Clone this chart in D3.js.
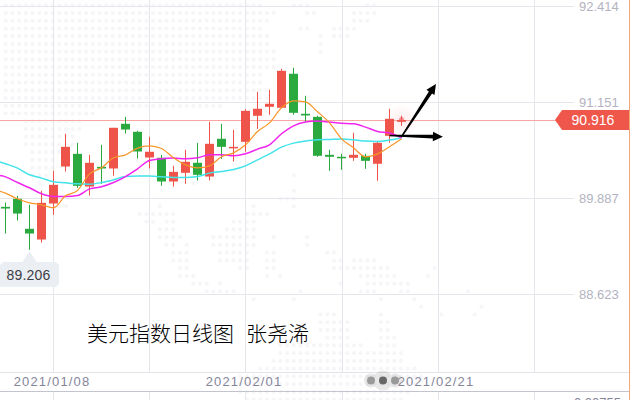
<!DOCTYPE html>
<html><head><meta charset="utf-8">
<script src="https://cdn.jsdelivr.net/npm/d3@7/dist/d3.min.js"></script>
<style>
html,body{margin:0;padding:0;background:#fff;overflow:hidden}
svg{display:block;font-family:"Liberation Sans",Arial,sans-serif}
.price text{font-size:13px;fill:#b3b3bf}
.date text{font-size:13px;fill:#85859a;letter-spacing:1.15px}
.axis path,.axis line{display:none}
</style></head><body><svg id="c" width="632" height="400"></svg>
<script>
const opens  =[89.774,89.880,89.485,89.344,89.818,90.305,90.472,90.042,90.301,90.279,90.867,90.762,90.424,90.420,90.108,90.222,90.354,90.173,90.670,90.551,90.630,90.973,91.091,91.078,91.526,90.999,90.959,90.459,90.433,90.420,90.446,90.341,90.709,90.894];
const closes =[89.752,89.686,89.423,89.827,90.064,90.564,90.051,90.354,90.279,90.815,90.792,90.503,90.499,90.108,90.235,90.367,90.196,90.604,90.564,90.564,91.038,91.065,91.131,91.565,91.012,90.977,90.446,90.433,90.420,90.459,90.380,90.617,90.933,90.916];
const highs  =[89.831,89.919,89.801,89.985,90.248,90.736,90.617,90.459,90.591,90.815,90.959,90.775,90.696,90.459,90.314,90.525,90.617,90.894,90.867,90.788,91.061,91.289,91.315,91.591,91.605,91.236,90.973,90.525,90.472,90.749,90.472,90.643,91.065,90.973];
const lows   =[89.423,89.594,89.208,89.304,89.669,90.239,90.025,89.923,90.077,90.183,90.740,90.410,90.279,90.051,90.042,90.077,90.121,90.121,90.406,90.371,90.499,90.801,90.986,91.078,90.986,90.894,90.433,90.248,90.262,90.380,90.275,90.117,90.617,90.841];
// moving averages start one session before the first visible candle
const maFast =[89.998,89.955,89.880,89.827,89.801,89.761,89.919,89.989,90.209,90.288,90.420,90.459,90.547,90.578,90.542,90.420,90.327,90.288,90.314,90.433,90.485,90.591,90.766,90.880,91.078,91.170,91.157,91.025,90.880,90.670,90.551,90.433,90.472,90.564,90.670];
const maMid  =[90.196,90.169,90.094,90.025,89.946,89.910,89.910,89.923,90.011,90.038,90.094,90.173,90.275,90.384,90.406,90.416,90.406,90.420,90.459,90.459,90.446,90.472,90.534,90.591,90.736,90.841,90.890,90.903,90.890,90.876,90.867,90.824,90.766,90.745,90.683];
const maSlow =[90.393,90.341,90.284,90.196,90.152,90.104,90.090,90.077,90.073,90.094,90.130,90.173,90.179,90.179,90.169,90.160,90.160,90.173,90.218,90.239,90.266,90.314,90.393,90.472,90.560,90.613,90.640,90.657,90.661,90.666,90.657,90.640,90.634,90.653,90.683];
const priceTicks=[92.414,91.151,89.887,88.623];
const dateTicks=[4,20,36];
const dateLabels=["2021/01/08","2021/02/01","2021/02/21"];
const gridSessions=[4,12,20,28.08,36.08,44.08];
const lastPrice=90.916, lowPrice=89.206, lowSession=2;
const title="美元指数日线图";
const author="张尧浠";
const arrows=[[32.98,90.692,35.87,91.39],[32,90.713,36.45,90.696]];
const mapRows={0:[0,262,292,310,365,376],1:[0,275,305,316,352,376],2:[0,265,352,370],3:[0,260,300,307,335,356],4:[0,265,320,321,335,350],5:[0,265,320,321],6:[0,272,320,321],7:[0,272],8:[0,272],9:[0,260],10:[0,260],11:[0,265],12:[0,265],13:[0,222],14:[0,95],15:[23,80],16:[25,80],17:[25,70],18:[25,70,160,161],19:[30,60],20:[30,50],21:[35,50],22:[35,45,293,294],23:[40,41,193,194],24:[293,294],25:[280,295],26:[60,66,160,161,253,254,293,294],27:[140,172,245,267],28:[145,155,165,175,232,255],29:[160,175,225,255],30:[160,180,212,255,273,274,307,308],31:[165,175,185,186,212,255,307,308],32:[170,190,222,245,270,276,327,335],33:[170,185,222,250,270,276,333,340,353,375],34:[180,190,240,250,265,276,333,390,435,436],35:[180,195,267,268,280,281,360,395,428,429],36:[193,205,220,221,340,341,365,410],37:[205,235,300,301,360,375,400,410,468,469],38:[253,254,293,294,380,381,415,416],39:[420,421,482,483],40:[320,335,380,381,442,443,475,476],41:[320,345,380,388],42:[320,345,380,388],43:[325,345,380,395],44:[280,360,380,395],45:[280,400],46:[275,402],47:[260,415],48:[240,420],49:[240,415],50:[240,410],51:[245,400]};

const svg=d3.select("#c");
const x=d3.scaleLinear().domain([0,1]).range([5.5,17.5]);
const y=d3.scaleLinear().domain([92.414,88.623]).range([6.3,294.3]);
const RED="#ee5449",GREEN="#2aa93e",GRID="#e5e5ec";

// dotted world-map watermark
const wm=svg.append("g").attr("fill","#f6f6f8");
Object.entries(mapRows).forEach(([r,s])=>{
  for(let i=0;i<s.length;i+=2)for(let k=0;k<95;k++){
    const cx=5.7+6.7*k;
    if(cx>=s[i]-3&&cx<=s[i+1]+3) wm.append("circle").attr("cx",cx).attr("cy",5.3+7.73*r).attr("r",2.1);
  }
});

// grid
svg.append("g").selectAll("line").data(gridSessions).join("line")
 .attr("x1",d=>Math.floor(x(d))+.5).attr("x2",d=>Math.floor(x(d))+.5).attr("y1",0).attr("y2",372).attr("stroke",GRID);
svg.append("g").selectAll("line").data(gridSessions).join("line")
 .attr("x1",d=>Math.floor(x(d))+.5).attr("x2",d=>Math.floor(x(d))+.5).attr("y1",391).attr("y2",400).attr("stroke",GRID);
svg.append("g").selectAll("line").data(priceTicks).join("line")
 .attr("x1",0).attr("x2",574).attr("y1",d=>Math.round(y(d))+.5).attr("y2",d=>Math.round(y(d))+.5).attr("stroke",GRID);
svg.append("line").attr("x1",0).attr("x2",629).attr("y1",372.5).attr("y2",372.5).attr("stroke","#e2e2e8");
svg.append("line").attr("x1",0).attr("x2",629).attr("y1",391.5).attr("y2",391.5).attr("stroke","#c4c4cf");
svg.append("line").attr("x1",629.5).attr("x2",629.5).attr("y1",0).attr("y2",400).attr("stroke","#f4a674");

// last-price line
svg.append("line").attr("x1",0).attr("x2",556).attr("y1",Math.floor(y(lastPrice))+.5).attr("y2",Math.floor(y(lastPrice))+.5).attr("stroke","#f8a8a0");

// glow behind latest candle
const defs=svg.append("defs");
const rg=defs.append("radialGradient").attr("id","glow");
rg.append("stop").attr("offset","0").attr("stop-color","#f66").attr("stop-opacity",.12);
rg.append("stop").attr("offset","1").attr("stop-color","#f66").attr("stop-opacity",0);
svg.append("circle").attr("cx",x(33)).attr("cy",y(lastPrice)).attr("r",17).attr("fill","url(#glow)");

// candles
const idx=d3.range(opens.length);
const col=i=>closes[i]>=opens[i]?RED:GREEN;
const cg=svg.append("g");
cg.selectAll("rect.w").data(idx).join("rect").attr("class","w")
 .attr("x",i=>x(i)-.5).attr("width",1).attr("y",i=>y(highs[i])).attr("height",i=>y(lows[i])-y(highs[i])).attr("fill",col);
cg.selectAll("rect.b").data(idx).join("rect").attr("class","b")
 .attr("x",i=>x(i)-4.5).attr("width",9)
 .attr("y",i=>y(Math.max(opens[i],closes[i])))
 .attr("height",i=>Math.max(1.5,Math.abs(y(opens[i])-y(closes[i])))).attr("fill",col);
svg.append("circle").attr("cx",x(33)).attr("cy",y(lastPrice)-.5).attr("r",2.5).attr("fill","#f5555a").attr("opacity",.6);

// moving averages
const ln=d3.line().x((d,i)=>x(i-1)).y(d=>y(d)).curve(d3.curveMonotoneX);
[[maSlow,"#42e3ea",1.5],[maMid,"#f225ee",1.5],[maFast,"#f9962a",1.2]].forEach(([s,c,w])=>
 svg.append("path").attr("d",ln(s)).attr("fill","none").attr("stroke",c).attr("stroke-width",w));

// hand-drawn arrows
arrows.forEach(([a,b,c,d])=>{
 const x0=x(a),y0=y(b),x1=x(c),y1=y(d),L=Math.hypot(x1-x0,y1-y0),ux=(x1-x0)/L,uy=(y1-y0)/L,nx=-uy,ny=ux;
 const bx=x1-ux*10,by=y1-uy*10;
 const pts=[[x0+nx*.8,y0+ny*.8],[bx+nx*1.9,by+ny*1.9],[bx+nx*4.8,by+ny*4.8],[x1,y1],[bx-nx*4.8,by-ny*4.8],[bx-nx*1.9,by-ny*1.9],[x0-nx*.8,y0-ny*.8]];
 svg.append("polygon").attr("points",pts.map(p=>p.join(",")).join(" ")).attr("fill","#000");
});

// axes
svg.append("g").attr("class","axis price").attr("transform","translate(579,0)")
 .call(d3.axisRight(y).tickValues(priceTicks).tickFormat(d3.format(".3f")).tickSize(0).tickPadding(0));
const da=svg.append("g").attr("class","axis date").attr("transform","translate(0,376)")
 .call(d3.axisBottom(x).tickValues(dateTicks).tickFormat((d,i)=>dateLabels[i]).tickSize(0).tickPadding(0));
da.selectAll("text").attr("y",0).attr("dy","10px").attr("dx","-2px");
svg.append("text").attr("x",621).attr("y",407).attr("text-anchor","end").attr("font-size",13).attr("fill","#85859a").text("0.00755");

// last-price tag
const ty=y(lastPrice);
svg.append("path").attr("d",d3.line()([[555,ty],[562,ty-10],[629,ty-10],[629,ty+10],[562,ty+10]])+"Z").attr("fill","#ef574b");
svg.append("text").attr("x",593).attr("y",ty+5).attr("text-anchor","middle").attr("font-size",14).attr("fill","#fff").text(d3.format(".3f")(lastPrice));

// lowest-price callout
const lx=x(lowSession), ly=y(lowPrice);
svg.append("path").attr("d",d3.line()([[lx,ly+1],[lx+7,262],[56,262],[59,265],[59,284],[56,287],[0,287],[0,265],[3,262],[lx-7,262]])+"Z").attr("fill","#ebeef2");
svg.append("text").attr("x",28.5).attr("y",279.5).attr("text-anchor","middle").attr("font-size",14).attr("letter-spacing",".2").attr("fill","#3a3d45").text(d3.format(".3f")(lowPrice));

// title
const ft='"Noto Sans CJK SC"';
svg.append("text").attr("x",87).attr("y",341).attr("font-family",ft).attr("font-size",21).attr("font-weight",300).attr("fill","#000").text(title);
svg.append("text").attr("x",246).attr("y",341).attr("font-family",ft).attr("font-size",21).attr("font-weight",300).attr("fill","#000").text(author);

// loading indicator over the time axis
const halo=svg.append("g").attr("fill","#999").attr("opacity",.22);
[[371,7],[383,10],[395,7]].forEach(([cx,r])=>halo.append("circle").attr("cx",cx).attr("cy",380.5).attr("r",r));
[[371,"#9a9a9a"],[383,"#666"],[395,"#9a9a9a"]].forEach(([cx,c])=>svg.append("circle").attr("cx",cx).attr("cy",380.5).attr("r",4).attr("fill",c));
</script></body></html>
